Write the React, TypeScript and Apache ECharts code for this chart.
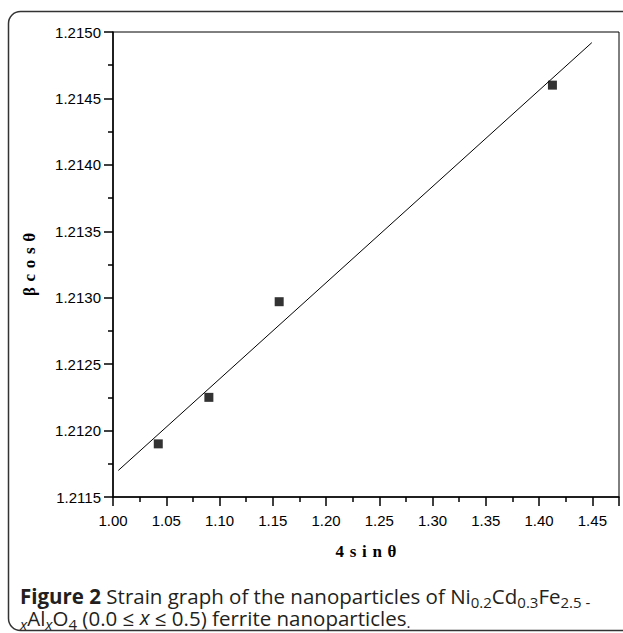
import React, { useEffect, useRef } from "react";
import * as echarts from "echarts";

const xValues = [1.0425, 1.09, 1.156, 1.4125];
const yValues = [1.2119, 1.21225, 1.21297, 1.2146];
const fitX = [1.005, 1.4495];
const fitY = [1.2117, 1.21492];
const xAxisName = "4\u2004s\u2004i\u2004n\u2004θ";
const yAxisName = "β\u2004c\u2004o\u2004s\u2004θ";

export default function App() {
  const ref = useRef<HTMLDivElement>(null);
  useEffect(() => {
    if (!ref.current) return;
    const chart = echarts.init(ref.current, undefined, { renderer: "svg" });
    const pts = xValues.map((x, i) => [x, yValues[i]]);
    const fit = fitX.map((x, i) => [x, fitY[i]]);
    const tickLabel = {
      color: "#000",
      fontFamily: "Liberation Sans, Arial, sans-serif",
      fontSize: 15,
    };
    const nameStyle = {
      fontFamily: "Liberation Serif, Times New Roman, serif",
      fontWeight: "bold",
      fontSize: 17,
      color: "#000",
    };
    const cap = "Open Sans";
    const col = "#231f20";
    const main = { fontFamily: cap, fontSize: 20.5, lineHeight: 22, verticalAlign: "top", fill: col };
    const sub = { fontFamily: cap, fontSize: 15, lineHeight: 22, verticalAlign: "bottom", padding: [0, 0, -2, 0], fill: col };
    chart.setOption({
      animation: false,
      backgroundColor: "#fff",
      grid: {
        left: 113,
        right: 4,
        top: 32,
        bottom: 136,
        show: true,
        borderColor: "#000",
        borderWidth: 1,
      },
      xAxis: {
        type: "value",
        min: 1.0,
        max: 1.475,
        interval: 0.05,
        name: xAxisName,
        nameLocation: "middle",
        nameGap: 46,
        nameTextStyle: nameStyle,
        axisLine: { lineStyle: { color: "#000", width: 1.5 } },
        axisTick: { inside: false, length: 9, lineStyle: { color: "#000", width: 1.5 } },
        minorTick: { show: true, splitNumber: 2, length: 5, lineStyle: { color: "#000", width: 1.5 } },
        splitLine: { show: false },
        axisLabel: {
          ...tickLabel,
          margin: 16,
          showMaxLabel: false,
          formatter: (v: number) => v.toFixed(2),
        },
      },
      yAxis: {
        type: "value",
        min: 1.2115,
        max: 1.215,
        interval: 0.0005,
        name: yAxisName,
        nameLocation: "middle",
        nameGap: 75,
        nameTextStyle: nameStyle,
        axisLine: { lineStyle: { color: "#000", width: 1.5 } },
        axisTick: { inside: false, length: 9, lineStyle: { color: "#000", width: 1.5 } },
        minorTick: { show: true, splitNumber: 2, length: 5, lineStyle: { color: "#000", width: 1.5 } },
        splitLine: { show: false },
        axisLabel: {
          ...tickLabel,
          margin: 12,
          formatter: (v: number) => v.toFixed(4),
        },
      },
      series: [
        {
          type: "line",
          data: fit,
          symbol: "none",
          lineStyle: { color: "#000", width: 1 },
          z: 2,
        },
        {
          type: "scatter",
          data: pts,
          symbol: "rect",
          symbolSize: 9,
          itemStyle: { color: "#000" },
          z: 3,
        },
      ],
      graphic: [
        {
          type: "rect",
          shape: { x: 8.5, y: 11.5, width: 700, height: 619, r: 12 },
          style: { fill: "none", stroke: "#333", lineWidth: 1.5 },
          silent: true,
        },
        {
          type: "text",
          left: 20,
          top: 585,
          style: {
            text:
              "{b|Figure 2}{n| Strain graph of the nanoparticles of Ni}{s|0.2}{n|Cd}{s|0.3}{n|Fe}{s|2.5 -}\n" +
              "{si|x}{n|Al}{si|x}{n|O}{s|4}{n| (0.0 ≤ }{i|x}{n| ≤ 0.5) ferrite nanoparticles}{d|.}",
            fill: col,
            rich: {
              b: { ...main, fontWeight: "bold" },
              n: main,
              i: { ...main, fontStyle: "italic" },
              s: sub,
              si: { ...sub, fontStyle: "italic" },
              d: { ...main, fontSize: 15, verticalAlign: "bottom" },
            },
          },
        },
      ],
    });
    return () => chart.dispose();
  }, []);
  return (
    <div
      ref={ref}
      style={{ position: "absolute", left: 0, top: 0, width: 623, height: 633 }}
    />
  );
}
